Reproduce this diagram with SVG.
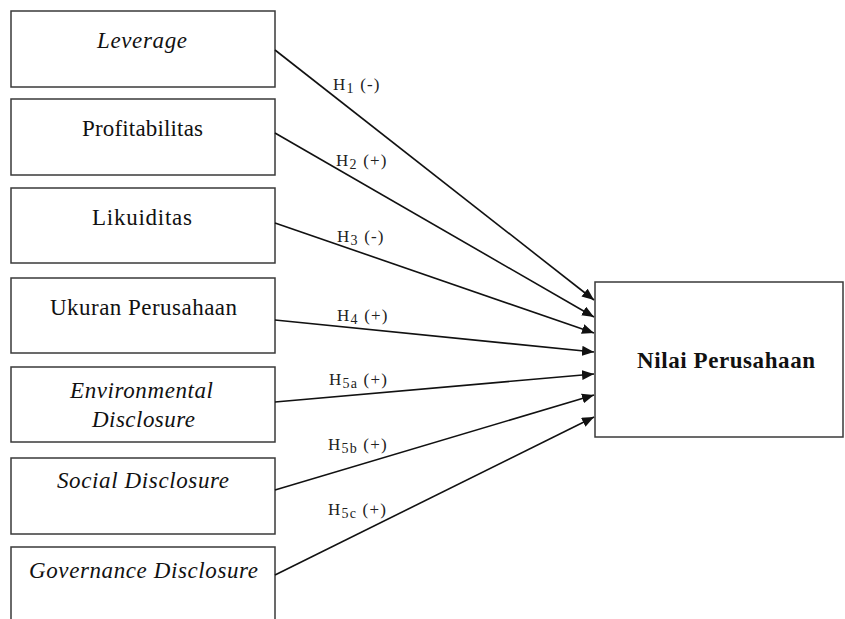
<svg xmlns="http://www.w3.org/2000/svg" width="845" height="619" viewBox="0 0 845 619">
<style>
.box{fill:#fff;stroke:#3a3a3a;stroke-width:1.5}
.t{font-family:"Liberation Serif","Times New Roman",Times,serif;font-size:23px;fill:#111;text-anchor:middle}
.i{font-style:italic}
.b{font-weight:bold}
.lbl{font-family:"Liberation Serif","Times New Roman",Times,serif;font-size:17px;fill:#222;letter-spacing:1.2px}
.sub{font-size:14px}
.conn line{stroke:#111;stroke-width:1.6;fill:none}
</style>
<defs>
<marker id="arr" markerUnits="userSpaceOnUse" markerWidth="13" markerHeight="10" refX="12" refY="5" orient="auto">
<path d="M0,0 L12,5 L0,10 z" fill="#111"/>
</marker>
</defs>
<rect width="845" height="619" fill="#fff"/>
<g id="n-leverage"><rect class="box" x="11" y="11" width="264" height="76"/><text class="t i" x="142" y="48" textLength="90" lengthAdjust="spacing">Leverage</text></g>
<g id="n-profitabilitas"><rect class="box" x="11" y="99" width="264" height="76"/><text class="t" x="142.5" y="136" textLength="121" lengthAdjust="spacing">Profitabilitas</text></g>
<g id="n-likuiditas"><rect class="box" x="11" y="188" width="264" height="75"/><text class="t" x="142" y="225" textLength="100" lengthAdjust="spacing">Likuiditas</text></g>
<g id="n-ukuran"><rect class="box" x="11" y="278" width="264" height="75"/><text class="t" x="143.5" y="315" textLength="187" lengthAdjust="spacing">Ukuran Perusahaan</text></g>
<g id="n-env"><rect class="box" x="11" y="367" width="264" height="75"/><text class="t i" x="141.5" y="398" textLength="143" lengthAdjust="spacing">Environmental</text><text class="t i" x="143.5" y="427" textLength="103" lengthAdjust="spacing">Disclosure</text></g>
<g id="n-social"><rect class="box" x="11" y="458" width="264" height="76"/><text class="t i" x="143" y="488" textLength="172" lengthAdjust="spacing">Social Disclosure</text></g>
<g id="n-gov"><rect class="box" x="11" y="547" width="264" height="80"/><text class="t i" x="143.5" y="578" textLength="229" lengthAdjust="spacing">Governance Disclosure</text></g>
<g id="n-nilai"><rect class="box" x="595" y="282" width="248" height="155"/><text class="t b" x="726" y="368" textLength="178" lengthAdjust="spacing">Nilai Perusahaan</text></g>
<g id="connectors" class="conn">
<line x1="275" y1="50" x2="594" y2="300" marker-end="url(#arr)"/>
<line x1="275" y1="133" x2="594" y2="317" marker-end="url(#arr)"/>
<line x1="275" y1="223" x2="594" y2="333" marker-end="url(#arr)"/>
<line x1="275" y1="320" x2="594" y2="352" marker-end="url(#arr)"/>
<line x1="275" y1="402" x2="594" y2="374" marker-end="url(#arr)"/>
<line x1="275" y1="490" x2="594" y2="395" marker-end="url(#arr)"/>
<line x1="275" y1="575" x2="594" y2="417" marker-end="url(#arr)"/>
</g>
<g id="labels">
<text class="lbl" x="333" y="90">H<tspan class="sub" dy="3">1</tspan><tspan dy="-3"> (-)</tspan></text>
<text class="lbl" x="336" y="166">H<tspan class="sub" dy="3">2</tspan><tspan dy="-3"> (+)</tspan></text>
<text class="lbl" x="337" y="242">H<tspan class="sub" dy="3">3</tspan><tspan dy="-3"> (-)</tspan></text>
<text class="lbl" x="337" y="321">H<tspan class="sub" dy="3">4</tspan><tspan dy="-3"> (+)</tspan></text>
<text class="lbl" x="329" y="385">H<tspan class="sub" dy="3">5a</tspan><tspan dy="-3"> (+)</tspan></text>
<text class="lbl" x="328" y="450">H<tspan class="sub" dy="3">5b</tspan><tspan dy="-3"> (+)</tspan></text>
<text class="lbl" x="328" y="515">H<tspan class="sub" dy="3">5c</tspan><tspan dy="-3"> (+)</tspan></text>
</g>
</svg>
